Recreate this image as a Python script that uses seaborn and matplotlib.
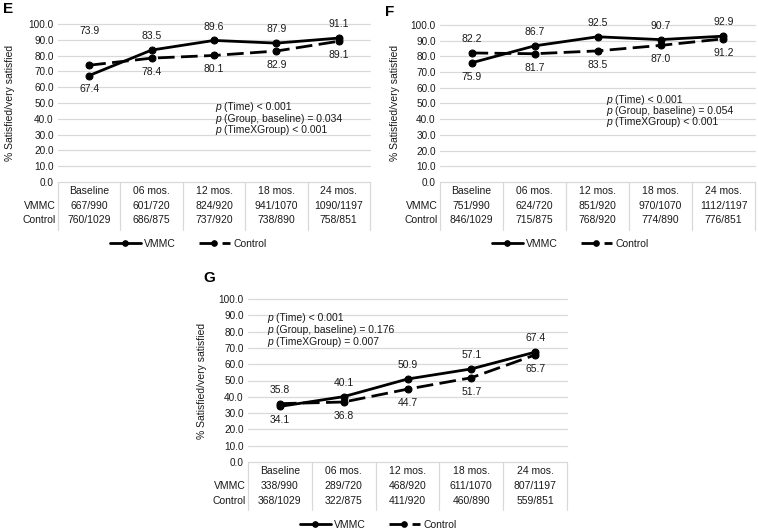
import numpy as np
import pandas as pd
import seaborn as sns
import matplotlib.pyplot as plt

# 데이터
times = ['Baseline', '06 mos.', '12 mos.', '18 mos.', '24 mos.']
groups = ['VMMC', 'Control']

vmmc_e = [67.4, 83.5, 89.6, 87.9, 91.1]
control_e = [73.9, 78.4, 80.1, 82.9, 89.1]
vmmc_n_e = ['667/990', '601/720', '824/920', '941/1070', '1090/1197']
control_n_e = ['760/1029', '686/875', '737/920', '738/890', '758/851']
p_e = ['(Time) < 0.001', '(Group, baseline) = 0.034', '(TimeXGroup) < 0.001']

vmmc_f = [75.9, 86.7, 92.5, 90.7, 92.9]
control_f = [82.2, 81.7, 83.5, 87.0, 91.2]
vmmc_n_f = ['751/990', '624/720', '851/920', '970/1070', '1112/1197']
control_n_f = ['846/1029', '715/875', '768/920', '774/890', '776/851']
p_f = ['(Time) < 0.001', '(Group, baseline) = 0.054', '(TimeXGroup) < 0.001']

vmmc_g = [34.1, 40.1, 50.9, 57.1, 67.4]
control_g = [35.8, 36.8, 44.7, 51.7, 65.7]
vmmc_n_g = ['338/990', '289/720', '468/920', '611/1070', '807/1197']
control_n_g = ['368/1029', '322/875', '411/920', '460/890', '559/851']
p_g = ['(Time) < 0.001', '(Group, baseline) = 0.176', '(TimeXGroup) = 0.007']

sns.set_style('white')
plt.rcParams['font.family'] = ['Liberation Sans', 'DejaVu Sans']

W, H = 758, 530
fig = plt.figure(figsize=(W / 100, H / 100), dpi=100)

TXT = '#1a1a1a'
GRID = '#d9d9d9'
FS = 7.5


def panel(rect, letter, letter_xy, ylab_xy, vmmc, control, vmmc_n, control_n,
          p_lines, p_xy, p_step, legend_xy, nudge=None):
    l, t, r, b = rect
    wpx, hpx = r - l, b - t
    ax = fig.add_axes([l / W, 1 - b / H, wpx / W, hpx / H])

    df = pd.DataFrame({'time': times * 2,
                       'pct': vmmc + control,
                       'group': ['VMMC'] * len(times) + ['Control'] * len(times)})
    sns.lineplot(data=df, x='time', y='pct', style='group', style_order=groups,
                 dashes={'VMMC': '', 'Control': (6, 2.3)},
                 markers={'VMMC': 'o', 'Control': 'o'},
                 color='black', lw=2.0, markersize=5, mec='black',
                 ax=ax, legend=False)

    ax.set_xlim(-0.5, len(times) - 0.5)
    ax.set_ylim(0, 100)
    ax.set_yticks(np.arange(0, 101, 10))
    ax.set_yticklabels([f'{v:.1f}' for v in np.arange(0, 101, 10)])
    ax.set_xticks([])
    ax.set_xlabel('')
    ax.set_ylabel('')
    ax.tick_params(axis='y', length=0, pad=3, labelsize=7.2, labelcolor=TXT)
    ax.grid(axis='y', color=GRID, lw=0.9)
    for gl in ax.get_ygridlines():
        gl.set_clip_on(False)
    for s in ax.spines.values():
        s.set_visible(False)
    ax.set_axisbelow(True)

    # 데이터 라벨 (높은 쪽은 위, 낮은 쪽은 아래)
    nudge = nudge or {}
    for gi, (vals, other) in enumerate([(vmmc, control), (control, vmmc)]):
        for i, v in enumerate(vals):
            off = 10 if v >= other[i] else -10
            off += nudge.get((gi, i), 0)
            ax.annotate(f'{v:.1f}', (times[i], v), xytext=(0, off),
                        textcoords='offset points', ha='center', va='center',
                        fontsize=FS, color=TXT)

    # 아래쪽 표
    n = len(times)
    bottom = -48 / hpx
    for k in range(n + 1):
        ax.plot([k / n, k / n], [0, bottom], transform=ax.transAxes,
                color=GRID, lw=0.9, clip_on=False)
    rows = [(-9, None, times), (-24, 'VMMC', vmmc_n), (-38.5, 'Control', control_n)]
    for dy, lab, cells in rows:
        y = dy / hpx
        for i, c in enumerate(cells):
            ax.text((i + 0.5) / n, y, c, transform=ax.transAxes,
                    ha='center', va='center', fontsize=FS, color=TXT)
        if lab:
            ax.text(-2 / wpx, y, lab, transform=ax.transAxes,
                    ha='right', va='center', fontsize=FS, color=TXT)

    # p 값 (p 는 이탤릭)
    for j, s in enumerate(p_lines):
        y = p_xy[1] - j * p_step / hpx
        ax.text(p_xy[0], y, 'p', transform=ax.transAxes, ha='left',
                va='center', fontsize=FS, style='italic', color=TXT)
        ax.annotate(s, (p_xy[0], y), xycoords='axes fraction',
                    xytext=(6.3, 0), textcoords='offset points',
                    ha='left', va='center', fontsize=FS, color=TXT)

    fig.text(ylab_xy[0] / W, 1 - ylab_xy[1] / H, '% Satisfied/very satisfied',
             rotation=90, ha='center', va='center', fontsize=7.5, color=TXT)
    fig.text(letter_xy[0] / W, 1 - letter_xy[1] / H, letter,
             ha='left', va='center', fontsize=11, fontweight='bold', color='black')

    fig.legend(handles=ax.lines[:2], labels=groups, loc='center',
               bbox_to_anchor=(legend_xy[0] / W, 1 - legend_xy[1] / H),
               ncol=2, frameon=False, fontsize=FS, handlelength=3.0,
               columnspacing=2.2, handletextpad=0.3, labelcolor=TXT,
               markerscale=0.8)
    return ax


panel((58, 24, 370, 182), 'E', (3, 9), (10, 103), vmmc_e, control_e,
      vmmc_n_e, control_n_e, p_e, (0.503, 0.475), 11.7, (188, 244),
      nudge={(1, 0): 15})
panel((440, 25, 755, 182), 'F', (385, 12), (395, 103), vmmc_f, control_f,
      vmmc_n_f, control_n_f, p_f, (0.527, 0.522), 11.2, (570, 244))
panel((248, 299, 567, 462), 'G', (203, 278), (202, 381), vmmc_g, control_g,
      vmmc_n_g, control_n_g, p_g, (0.06, 0.883), 12, (378, 525))

plt.savefig('out.png', dpi=100)
